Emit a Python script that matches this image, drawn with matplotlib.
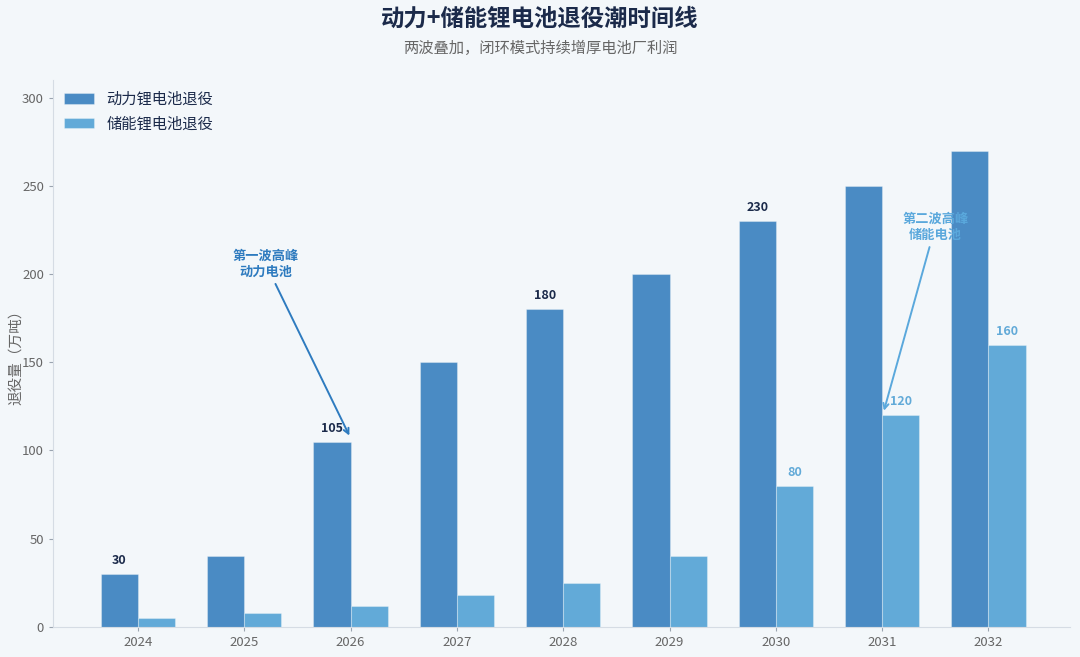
import matplotlib
matplotlib.use("Agg")
import matplotlib.pyplot as plt
import numpy as np

plt.rcParams['font.family'] = ['Noto Sans CJK SC', 'DejaVu Sans']

years = ["2024", "2025", "2026", "2027", "2028", "2029", "2030", "2031", "2032"]
power = [30, 40, 105, 150, 180, 200, 230, 250, 270]
storage = [5, 8, 12, 18, 25, 40, 80, 120, 160]
power_labeled = {0: 30, 2: 105, 4: 180, 6: 230}
storage_labeled = {6: 80, 7: 120, 8: 160}

bg = "#F3F7FA"
c_power = "#4A8BC4"
c_storage = "#62AAD8"

fig = plt.figure(figsize=(10.8, 6.57), dpi=100, facecolor=bg)
ax = fig.add_axes([0.049, 0.046, 0.942, 0.832])
ax.set_facecolor(bg)

x = np.arange(len(years))
w = 0.35
ax.bar(x - w/2, power, w, color=c_power, label="动力锂电池退役",
       edgecolor=(1, 1, 1, 0.3), linewidth=0.8)
ax.bar(x + w/2, storage, w, color=c_storage, label="储能锂电池退役",
       edgecolor=(1, 1, 1, 0.3), linewidth=0.8)

for i, v in power_labeled.items():
    ax.text(i - w/2, v + 4, str(v), ha="center", va="bottom", fontsize=9,
            fontweight="bold", color="#1B2A4A")
for i, v in storage_labeled.items():
    ax.text(i + w/2, v + 4, str(v), ha="center", va="bottom", fontsize=9,
            fontweight="bold", color=c_storage)

ax.annotate("第一波高峰\n动力电池", xy=(2.0, 107), xytext=(1.2, 206),
            ha="center", va="center", fontsize=9.5, fontweight="bold", color="#2E7BBF",
            arrowprops=dict(arrowstyle="->", color="#2E7BBF", lw=1.4))
ax.annotate("第二波高峰\n储能电池", xy=(7.01, 121), xytext=(7.5, 227),
            ha="center", va="center", fontsize=9.5, fontweight="bold", color="#5AA8DC",
            arrowprops=dict(arrowstyle="->", color="#5AA8DC", lw=1.4))

ax.set_xlim(-0.8, 8.77)
ax.set_ylim(0, 310)
ax.set_xticks(x)
ax.set_xticklabels(years)
ax.set_yticks([0, 50, 100, 150, 200, 250, 300])
ax.tick_params(axis="both", colors="#9AA4B0", labelcolor="#666666", labelsize=9.5, length=3)
for s in ["top", "right"]:
    ax.spines[s].set_visible(False)
for s in ["left", "bottom"]:
    ax.spines[s].set_color("#D5DCE4")
ax.set_ylabel("退役量（万吨）", fontsize=10.5, color="#666666")
ax.yaxis.set_label_coords(-0.029, 0.5)

leg = ax.legend(loc="upper left", frameon=False, fontsize=11, handlelength=2.0,
                bbox_to_anchor=(0.0, 1.0), borderaxespad=0.3)
for t in leg.get_texts():
    t.set_color("#1B2A4A")

fig.text(0.5, 0.972, "动力+储能锂电池退役潮时间线", ha="center", va="center",
         fontsize=16.8, fontweight="bold", color="#1B2A4A")
fig.text(0.5, 0.927, "两波叠加，闭环模式持续增厚电池厂利润", ha="center", va="center",
         fontsize=11, color="#666666")

fig.savefig("out.png", dpi=100, facecolor=bg)
